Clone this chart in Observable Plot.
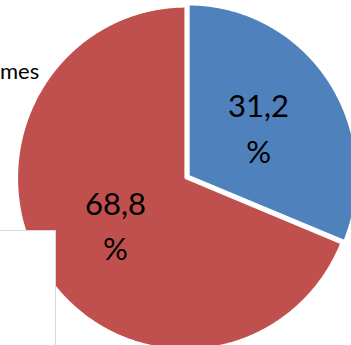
<!DOCTYPE html>
<html>
<head>
<meta charset="utf-8">
<script src="https://cdn.jsdelivr.net/npm/d3@7"></script>
<script src="https://cdn.jsdelivr.net/npm/@observablehq/plot@0.6"></script>
<style>
  html, body { margin: 0; padding: 0; background: #fff; }
  #wrap { position: relative; width: 351px; height: 345px; overflow: hidden; }
  #note { position: absolute; left: 0; top: 58px; width: 39px; text-align: right;
          font-family: Lato, "Open Sans", sans-serif; font-size: 22px; line-height: 26px; color: #000; }
  #legend { position: absolute; left: -1px; top: 230px; width: 55px; height: 130px;
            border: 1px solid #d9d9d9; background: #fff; }
</style>
</head>
<body>
<div id="wrap"></div>
<script>
// ---- data ----
const categories = ["Femmes", "Hommes"];
const values = [31.2, 68.8];
const colors = ["#4f81bd", "#c0504d"];
const explode = [0.022, 0];
const noteText = "mes";

// ---- layout ----
const W = 351, H = 345;
const cx = 185, cy = 177.5, rx = 168.5, ry = 171.5;

const pie = d3.pie().sort(null).value(d => d.value);
const arcs = pie(categories.map((c, i) => ({category: c, value: values[i], color: colors[i], explode: explode[i]})));

const polyPoints = [];
const labelPoints = [];
arcs.forEach(a => {
  const mid = (a.startAngle + a.endAngle) / 2;
  const ox = a.data.explode * Math.sin(mid), oy = a.data.explode * Math.cos(mid);
  polyPoints.push({category: a.data.category, x: ox, y: oy});
  const n = Math.max(2, Math.ceil((a.endAngle - a.startAngle) / 0.005));
  for (let k = 0; k <= n; k++) {
    const t = a.startAngle + (a.endAngle - a.startAngle) * k / n;
    polyPoints.push({category: a.data.category, x: ox + Math.sin(t), y: oy + Math.cos(t)});
  }
  labelPoints.push({
    category: a.data.category,
    x: ox + 0.5 * Math.sin(mid),
    y: oy + 0.5 * Math.cos(mid),
    text: a.data.value.toFixed(1).replace(".", ",") + "\n%"
  });
});

const chart = Plot.plot({
  width: W,
  height: H,
  margin: 0,
  style: {background: "transparent", overflow: "visible"},
  x: {type: "linear", domain: [-cx / rx, (W - cx) / rx], range: [0, W], axis: null},
  y: {type: "linear", domain: [-(H - cy) / ry, cy / ry], range: [H, 0], axis: null},
  color: {domain: categories, range: colors},
  marks: [
    Plot.line(polyPoints, {
      x: "x", y: "y", z: "category",
      fill: "category", stroke: "white", strokeWidth: 2.2,
      curve: "linear-closed", strokeLinejoin: "miter"
    }),
    Plot.text(labelPoints, {
      x: "x", y: "y", text: "text", dy: -3,
      fontSize: 31, fontFamily: "Lato, 'Open Sans', sans-serif",
      fill: "black", lineHeight: 1.48, lineAnchor: "middle", textAnchor: "middle"
    })
  ]
});

const wrap = document.getElementById("wrap");
wrap.appendChild(chart);
const note = document.createElement("div");
note.id = "note";
note.textContent = noteText;
wrap.appendChild(note);
const legend = document.createElement("div");
legend.id = "legend";
wrap.appendChild(legend);
</script>
</body>
</html>
